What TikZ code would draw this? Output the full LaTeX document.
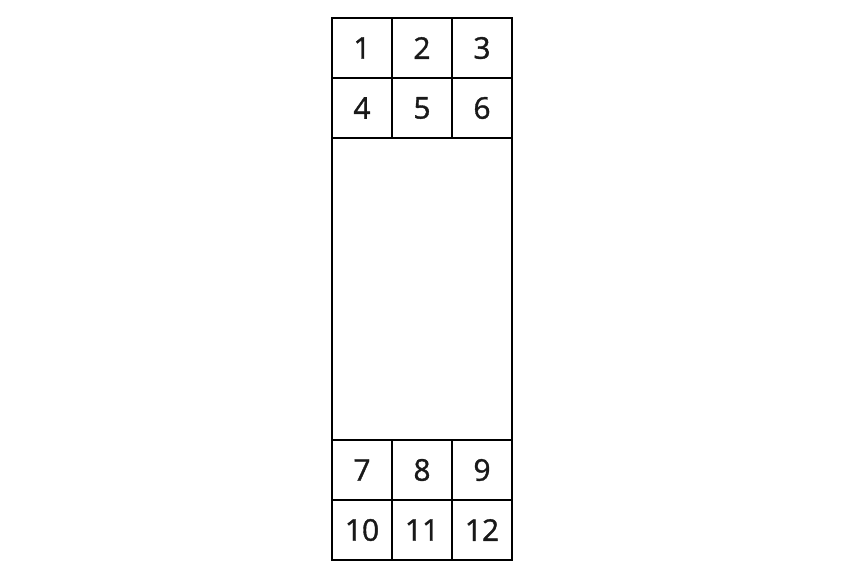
\documentclass[tikz,border=0pt]{standalone}
\usepackage{fontspec}
\setmainfont{Open Sans}
\newfontfamily\cellfont{Open Sans}[FakeBold=1.2]
\usetikzlibrary{positioning}
\begin{document}
\begin{tikzpicture}[x=1pt,y=-1pt,node distance=60pt,on grid,
    cell/.style={draw,line width=1.6pt,minimum size=60pt,inner sep=0pt,
      font=\cellfont\fontsize{30}{30}\selectfont,text=black!90}]
    \useasboundingbox (0,0) rectangle (846,579);
    \node[cell](c1) at (362,48) {1};
    \node[cell](c2) [right= of c1] {2};
    \node[cell](c3) [right= of c2] {3};
    \node[cell](c4) [below= of c1] {4};
    \node[cell](c5) [below= of c2] {5};
    \node[cell](c6) [below= of c3] {6};
    \node[draw,line width=1.6pt,minimum width=180pt,minimum height=302pt,
      inner sep=0pt](body) [below=181pt of c5] {};
    \node[cell](c8) [below=181pt of body] {8};
    \node[cell](c7) [left= of c8] {7};
    \node[cell](c9) [right= of c8] {9};
    \node[cell](c10) [below= of c7] {10};
    \node[cell](c11) [below= of c8] {11};
    \node[cell](c12) [below= of c9] {12};
\end{tikzpicture}
\end{document}
